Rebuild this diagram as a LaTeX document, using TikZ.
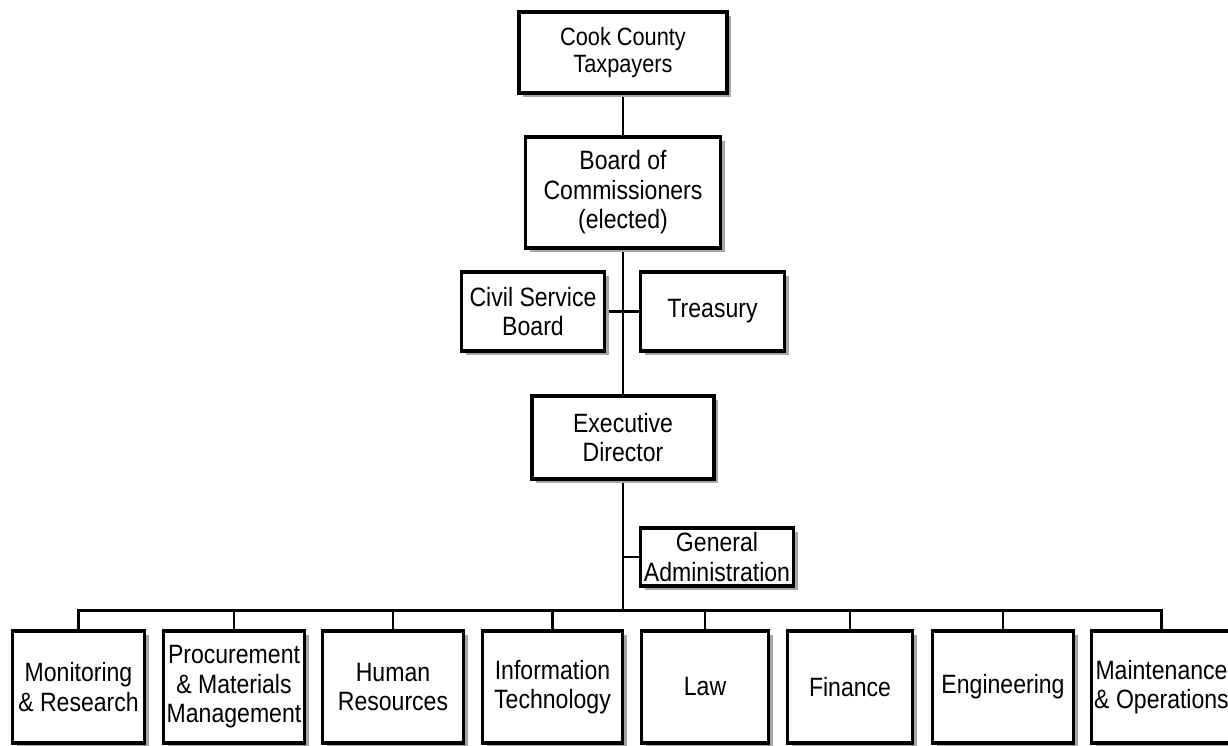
\documentclass[tikz,border=0pt]{standalone}
\usepackage{fontspec}
\setmainfont{Liberation Sans}[FakeStretch=0.87]
\usetikzlibrary{positioning,shadows,backgrounds}

\begin{document}
\begin{tikzpicture}[x=1pt,y=-1pt,font=\fontsize{26.5}{29.5}\selectfont]
  \tikzstyle{box}=[draw,line width=3.2pt,fill=white,align=center,inner sep=0pt,
    drop shadow={shadow xshift=4pt,shadow yshift=-4pt,fill=gray!70,opacity=1}]
  \tikzstyle{dept}=[box,minimum height=112pt,minimum width=140pt]
  \tikzstyle{link}=[line width=2.4pt]
  \useasboundingbox (0,0) rectangle (1228,745);

  \node[box,minimum width=208pt,minimum height=81pt,font=\fontsize{25}{27}\selectfont] (tax) at (623,52.5) {Cook County\\Taxpayers};
  \node[box,minimum width=195pt,minimum height=111pt] (board) [below of=tax,node distance=140pt] {Board of\\Commissioners\\(elected)};
  \node[box,minimum width=143pt,minimum height=79pt] (civil) [below of=board,node distance=119pt,xshift=-90pt] {Civil Service\\Board};
  \node[box,minimum width=144pt,minimum height=79pt] (treasury) [below of=board,node distance=119pt,xshift=89.5pt] {Treasury};
  \node[box,minimum width=182pt,minimum height=83pt] (exec) [below of=board,node distance=245pt] {Executive\\Director};
  \node[box,minimum width=153pt,minimum height=58pt] (genadmin) [below of=exec,node distance=119.5pt,xshift=94pt] {General\\Administration};
  \coordinate[below=130pt of exec.south] (bus);

  \node[dept,minimum width=132pt] (monitor) [below of=exec,node distance=249.5pt,xshift=-544.5pt] {Monitoring\\\& Research};
  \node[dept,minimum width=141pt] (procure) [below of=exec,node distance=249.5pt,xshift=-389pt] {Procurement\\\& Materials\\Management};
  \node[dept,minimum width=141pt] (hr) [below of=exec,node distance=249.5pt,xshift=-230pt] {Human\\Resources};
  \node[dept] (infotech) [below of=exec,node distance=249.5pt,xshift=-70.5pt] {Information\\Technology};
  \node[dept,minimum width=127pt] (law) [below of=exec,node distance=249.5pt,xshift=82pt] {Law};
  \node[dept,minimum width=125pt] (finance) [below of=exec,node distance=249.5pt,xshift=227pt] {Finance};
  \node[dept,minimum width=141pt] (engineer) [below of=exec,node distance=249.5pt,xshift=380pt] {Engineering};
  \node[dept] (maint) [below of=exec,node distance=249.5pt,xshift=538.5pt] {Maintenance\\\& Operations};

\begin{scope}[on background layer]
\draw[link] (tax) -- (board);
\draw[link] (board.south) -- (exec.north);
\draw[link] (civil.east) -- (treasury.west);
\draw[link] (exec.south) -- (bus);
\draw[link] (genadmin.west) -- (genadmin.west -| exec.south);
\draw[link] (bus) -| (monitor.north);
\draw[link] (bus) -| (procure.north);
\draw[link] (bus) -| (hr.north);
\draw[link] (bus) -| (infotech.north);
\draw[link] (bus) -| (law.north);
\draw[link] (bus) -| (finance.north);
\draw[link] (bus) -| (engineer.north);
\draw[link] (bus) -| (maint.north);
\end{scope}
\end{tikzpicture}
\end{document}
